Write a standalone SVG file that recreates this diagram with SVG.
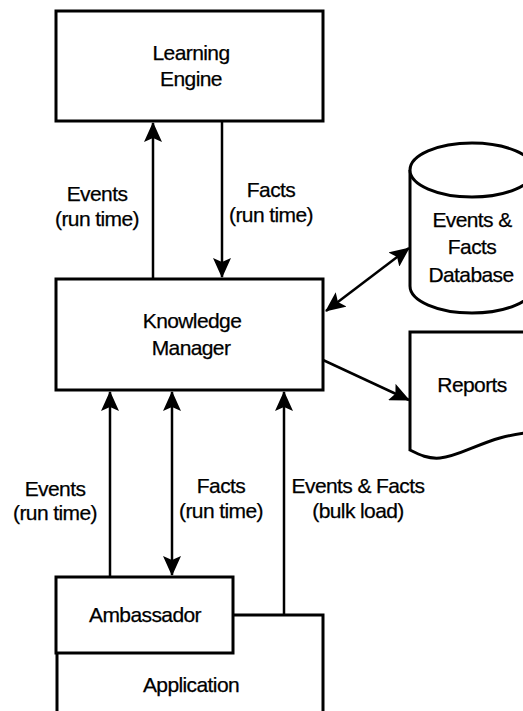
<svg xmlns="http://www.w3.org/2000/svg" width="523" height="711" viewBox="0 0 523 711">
  <style>
    .box { fill: #fff; stroke: #000; stroke-width: 3; }
    .shape { fill: #fff; stroke: #000; stroke-width: 3; }
    .edge { fill: none; stroke: #000; stroke-width: 2.5; }
    text { font-family: "Liberation Sans", Arial, Helvetica, sans-serif; font-size: 21px; fill: #000; stroke: #000; stroke-width: 0.25; text-anchor: middle; letter-spacing: -0.6px; }
  </style>
  <defs>
    <marker id="arrow" viewBox="0 0 20 18" refX="19" refY="9" markerWidth="20" markerHeight="18" markerUnits="userSpaceOnUse" orient="auto-start-reverse">
      <path d="M0,0 L20,9 L0,18 L4,9 Z" fill="#000"/>
    </marker>
  </defs>
  <rect width="523" height="711" fill="#fff"/>

  <!-- connectors -->
  <g id="connectors">
    <line class="edge" x1="153" y1="279" x2="153" y2="123" marker-end="url(#arrow)"/>
    <line class="edge" x1="222" y1="121" x2="222" y2="277" marker-end="url(#arrow)"/>
    <line class="edge" x1="326" y1="311" x2="409" y2="248" marker-start="url(#arrow)" marker-end="url(#arrow)"/>
    <line class="edge" x1="323" y1="360" x2="409" y2="400" marker-end="url(#arrow)"/>
    <line class="edge" x1="110" y1="577" x2="110" y2="392" marker-end="url(#arrow)"/>
    <line class="edge" x1="172" y1="392" x2="172" y2="575" marker-start="url(#arrow)" marker-end="url(#arrow)"/>
    <line class="edge" x1="284" y1="615" x2="284" y2="392" marker-end="url(#arrow)"/>
    <text x="97" y="201">Events</text>
    <text x="97" y="226">(run time)</text>
    <text x="271" y="197">Facts</text>
    <text x="271" y="222">(run time)</text>
    <text x="55" y="496">Events</text>
    <text x="55" y="520">(run time)</text>
    <text x="221" y="493">Facts</text>
    <text x="221" y="518">(run time)</text>
    <text x="358" y="493">Events &amp; Facts</text>
    <text x="358" y="518">(bulk load)</text>
  </g>

  <g id="learning-engine">
    <rect class="box" x="56" y="11" width="267" height="110"/>
    <text x="191" y="60">Learning</text>
    <text x="191" y="86">Engine</text>
  </g>

  <g id="knowledge-manager">
    <rect class="box" x="56" y="279" width="267" height="111"/>
    <text x="192" y="328">Knowledge</text>
    <text x="191" y="355">Manager</text>
  </g>

  <g id="database">
    <path class="shape" d="M410,170 L410,286 A62,27 0 0 0 534,286 L534,170"/>
    <ellipse class="shape" cx="472" cy="170" rx="62" ry="27"/>
    <text x="472" y="227">Events &amp;</text>
    <text x="472" y="254">Facts</text>
    <text x="471" y="282">Database</text>
  </g>

  <g id="reports">
    <path class="shape" d="M540,332 L410,332 L410,450 C420,455 428,459 440,458 C465,456 490,433 540,432"/>
    <text x="472" y="392">Reports</text>
  </g>

  <g id="application">
    <path class="shape" d="M57,720 L57,615 L323,615 L323,720"/>
    <text x="191" y="692">Application</text>
  </g>

  <g id="ambassador">
    <rect class="box" x="56" y="577" width="177" height="76"/>
    <text x="145" y="622">Ambassador</text>
  </g>
</svg>
